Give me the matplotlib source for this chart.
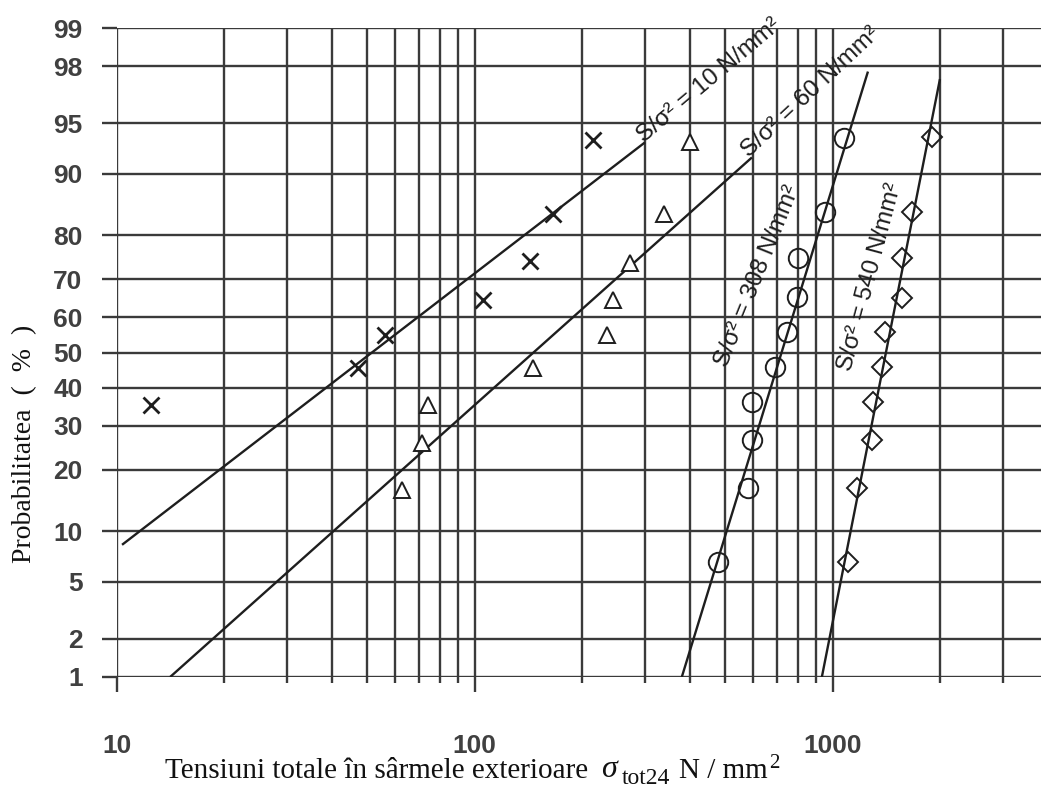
import numpy as np
import matplotlib
matplotlib.use("Agg")
import matplotlib.pyplot as plt
from matplotlib.ticker import FixedLocator, FixedFormatter, NullFormatter, NullLocator
from statistics import NormalDist

# --- data ---
prob_ticks = [1, 2, 5, 10, 20, 30, 40, 50, 60, 70, 80, 90, 95, 98, 99]
x_major = [10, 100, 1000]
x_minor = [20, 30, 40, 50, 60, 70, 80, 90,
           200, 300, 400, 500, 600, 700, 800, 900, 2000, 3000]

# S/d2 = 10 N/mm2 (crosses)
cross_x = [12.5, 47.2, 56.1, 105.4, 142.7, 165.5, 213.8]
cross_p = [35.3, 45.6, 55.0, 64.7, 74.4, 84.0, 93.6]
# S/d2 = 60 N/mm2 (triangles)
tri_x = [62.7, 71.3, 74.1, 145.5, 234, 243.4, 271.7, 338, 399]
tri_p = [16.2, 25.8, 35.3, 45.6, 55.0, 64.7, 74.0, 83.9, 93.4]
# S/d2 = 308 N/mm2 (circles)
circ_x = [478, 580, 595, 595, 690, 745, 795, 800, 952, 1075]
circ_p = [6.7, 16.6, 26.5, 36.1, 45.9, 55.8, 65.5, 75.0, 84.3, 93.8]
# S/d2 = 540 N/mm2 (diamonds)
diam_x = [1104, 1169, 1288, 1296, 1373, 1400, 1562, 1562, 1665, 1892]
diam_p = [6.7, 16.6, 26.5, 36.1, 45.9, 55.8, 65.3, 75.0, 84.3, 93.9]

# fitted lines (end points)
line10_x, line10_p = [10.35, 299], [8.4, 93.4]
line60_x, line60_p = [14.1, 595], [1.0, 91.9]
line308_x, line308_p = [379, 1255], [1.0, 97.8]
line540_x, line540_p = [933, 1994], [1.0, 97.5]

labels = ["S/σ² = 10 N/mm²", "S/σ² = 60 N/mm²",
          "S/σ² = 308 N/mm²", "S/σ² = 540 N/mm²"]
label_pos = [(303, 93.0), (598, 91.4), (522, 45.0), (1160, 44.0)]
label_rot = [40, 43, 68, 75]

# normal probability scale
nd = NormalDist()


def fwd(p):
    p = np.clip(np.asarray(p, dtype=float), 1e-6, 100 - 1e-6)
    return np.vectorize(lambda v: nd.inv_cdf(v / 100.0), otypes=[float])(p)


def inv(z):
    z = np.asarray(z, dtype=float)
    return np.vectorize(lambda v: nd.cdf(v) * 100.0, otypes=[float])(z)


plt.rcParams["mathtext.fontset"] = "custom"
plt.rcParams["mathtext.rm"] = "Liberation Serif"
plt.rcParams["mathtext.it"] = "Liberation Serif:italic"

fig = plt.figure(figsize=(10.41, 7.91), dpi=100)
ax = fig.add_axes([116.7 / 1041, 114 / 791, 1 - 116.7 / 1041, (763 - 114) / 791])

ax.set_xscale("log")
ax.set_yscale("function", functions=(fwd, inv))
ax.set_xlim(10, 3820)
ax.set_ylim(1, 99)

grid_c = "#3a3a3a"
line_c = "#1e1e1e"
tick_c = "#404040"

ax.xaxis.set_major_locator(FixedLocator(x_major))
ax.xaxis.set_minor_locator(FixedLocator(x_minor))
ax.xaxis.set_major_formatter(FixedFormatter(["10", "100", "1000"]))
ax.xaxis.set_minor_formatter(NullFormatter())
ax.yaxis.set_major_locator(FixedLocator(prob_ticks))
ax.yaxis.set_major_formatter(FixedFormatter([str(t) for t in prob_ticks]))
ax.yaxis.set_minor_locator(NullLocator())

ax.grid(which="both", axis="x", color=grid_c, lw=1.7)
ax.grid(which="major", axis="y", color=grid_c, lw=1.7)
ax.set_axisbelow(True)
for s in ax.spines.values():
    s.set_visible(False)

ax.tick_params(axis="x", which="major", direction="out", length=11, width=1.7,
               color=grid_c, pad=30, labelsize=19, labelcolor=tick_c)
ax.tick_params(axis="x", which="minor", direction="out", length=4.5, width=1.7,
               color=grid_c)
ax.tick_params(axis="y", which="major", direction="out", length=10.6, width=1.7,
               color=grid_c, pad=14, labelsize=19, labelcolor=tick_c)
for lab in ax.get_xticklabels() + ax.get_yticklabels():
    lab.set_family("Liberation Sans")
    lab.set_fontweight("bold")

# fitted lines
for lx, lp in [(line10_x, line10_p), (line60_x, line60_p),
               (line308_x, line308_p), (line540_x, line540_p)]:
    ax.plot(lx, lp, color=line_c, lw=1.7, solid_capstyle="butt")

# points
ax.plot(cross_x, cross_p, ls="none", marker="x", ms=12, mew=2.0, color=line_c)
ax.plot(tri_x, tri_p, ls="none", marker="^", ms=12, mew=1.4, mfc="white", mec=line_c)
ax.plot(circ_x, circ_p, ls="none", marker="o", ms=14, mew=1.4, mfc="none", mec=line_c)
ax.plot(diam_x, diam_p, ls="none", marker="D", ms=10, mew=1.4, mfc="none", mec=line_c)

# line labels
for txt, (tx, tp), rot in zip(labels, label_pos, label_rot):
    ax.text(tx, tp, txt, rotation=rot, rotation_mode="anchor", ha="left", va="bottom",
            fontsize=17.5, family="Liberation Sans", color=line_c, clip_on=False)

# axis titles
fig.text(25 / 1041, 1 - 444 / 791, "Probabilitatea  (  %  )", rotation=90,
         ha="center", va="center", fontsize=20, family="Liberation Serif", color="#111111")

serif = dict(family="Liberation Serif", color="#111111", annotation_clip=False)
t1 = fig.text(165 / 1041, 0.016, "Tensiuni totale în sârmele exterioare",
              ha="left", va="baseline", fontsize=21, family="Liberation Serif",
              color="#111111")
t2 = ax.annotate(r"$\sigma$", xy=(1, 0), xycoords=t1, xytext=(9, 0),
                 textcoords="offset points", ha="left", va="bottom", fontsize=23, **serif)
t3 = ax.annotate("tot24", xy=(1, 0), xycoords=t2, xytext=(2, -3),
                 textcoords="offset points", ha="left", va="bottom", fontsize=17, **serif)
t4 = ax.annotate("N / mm", xy=(1, 0), xycoords=t3, xytext=(6, 3),
                 textcoords="offset points", ha="left", va="bottom", fontsize=21, **serif)
ax.annotate("2", xy=(1, 0), xycoords=t4, xytext=(1, 8),
            textcoords="offset points", ha="left", va="bottom", fontsize=15, **serif)

fig.savefig("out.png", dpi=100, facecolor="white")
